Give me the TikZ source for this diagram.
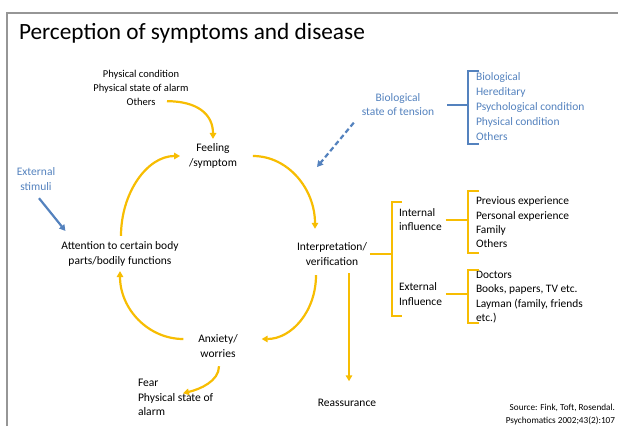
\documentclass[tikz,border=0pt]{standalone}
\usepackage{fontspec}
\setmainfont{Carlito}
\usetikzlibrary{arrows.meta,calc}
\definecolor{arrowyellow}{RGB}{247,189,2}
\definecolor{tensionblue}{RGB}{84,130,190}
\definecolor{framegray}{RGB}{150,150,150}

\begin{document}
\begin{tikzpicture}[x=1pt, y=1pt, yscale=-1, inner sep=2pt, outer sep=0pt,
  lbl/.style={font=\fontsize{11.5}{14.3}\selectfont, align=center},
  bluelbl/.style={lbl, text=tensionblue},
  items/.style={font=\fontsize{11.4}{14.3}\selectfont, align=left, anchor=west, inner sep=0pt},
  flow/.style={draw=arrowyellow, line width=2.2pt, -{Triangle[length=6pt,width=6.5pt]}},
  blueflow/.style={flow, draw=tensionblue},
  brace/.style={draw=arrowyellow, line width=2pt},
  bluebrace/.style={brace, draw=tensionblue}]
\useasboundingbox (0,0) rectangle (618,426);
\draw[framegray, line width=1.2pt] (7,426) -- (7,13) -- (618,13);

\path (19,39.5) node[anchor=base west, inner sep=0pt, font=\fontsize{23.3}{28}\selectfont] (title)
  {Perception of symptoms and disease};
\path (141,88) node[lbl, font=\fontsize{10.5}{14}\selectfont] (physcond)
  {Physical condition\\Physical state of alarm\\Others};
\path (213,156) node[lbl] (feeling) {Feeling\\/symptom};
\path (332,254) node[lbl] (interp) {Interpretation/\\verification};
\path (218,346) node[lbl] (anxiety) {Anxiety/\\worries};
\path (120,254) node[lbl] (attention) {Attention to certain body\\parts/bodily functions};
\path (36,179) node[bluelbl] (extstim) {External\\stimuli};
\path (398,104.5) node[bluelbl] (tension) {Biological\\state of tension};
\path (476,107) node[items, text=tensionblue, font=\fontsize{11.5}{15}\selectfont] (bioitems)
  {Biological\\Hereditary\\Psychological condition\\Physical condition\\Others};
\path (399,219.5) node[items] (intinf) {Internal\\influence};
\path (399,294) node[items] (extinf) {External\\Influence};
\path (476,222.5) node[items] (intitems)
  {Previous experience\\Personal experience\\Family\\Others};
\path (476,297) node[items] (extitems)
  {Doctors\\Books, papers, TV etc.\\Layman (family, friends\\etc.)};
\path (347,403) node[lbl] (reassure) {Reassurance};
\path (138,397.5) node[items, font=\fontsize{11.6}{14.5}\selectfont] (fear)
  {Fear\\Physical state of\\alarm};
\path (617,414.5) node[anchor=east, align=right, font=\fontsize{9.2}{13}\selectfont] (source)
  {Source: Fink, Toft, Rosendal.\\Psychomatics 2002;43(2):107};

\coordinate (biobrk) at (468,107);
\coordinate (mainbrk) at (392,259);
\coordinate (intbrk) at (468,222);
\coordinate (extbrk) at (468,296);
\coordinate (tensiontip) at (317,167);

\draw[bluebrace] (479,71) -- (468,71) -- (468,144) -- (479,144);
\draw[brace] (402,202) -- (392,202) -- (392,316) -- (402,316);
\draw[brace] (479,191) -- (468,191) -- (468,253) -- (479,253);
\draw[brace] (479,270) -- (468,270) -- (468,323) -- (479,323);
\draw[bluebrace] ($(tension.east)+(11,0)$) -- (tension.east -| biobrk);
\draw[brace] ($(interp.east)+(1,0)$) -- (interp.east -| mainbrk);
\draw[brace] ($(intinf.east)+(4,0)$) -- (intinf.east -| intbrk);
\draw[brace] ($(extinf.east)+(4,0)$) -- (extinf.east -| extbrk);

\draw[flow] ($(physcond.south)+(26,-6.5)$) .. controls +(30,0) and +(0,-25) .. ($(feeling.north)+(0,-3)$);
\draw[flow] ($(feeling.east)+(14,0)$) .. controls +(35,0) and +(0,-40) .. ($(interp.north)+(-17,-12)$);
\draw[flow] ($(interp.south)+(-16,8)$) .. controls +(0,36) and +(30,0) .. ($(anxiety.east)+(22,-7)$);
\draw[flow] ($(anxiety.west)+(-13,-7)$) .. controls +(-35,0) and +(0,38) .. ($(attention.south)+(0,3)$);
\draw[flow] ($(attention.north)+(1,-4)$) .. controls +(0,-43) and +(-33,0) .. ($(feeling.west)+(-7,0)$);
\draw[flow] ($(anxiety.south)+(1,7)$) .. controls +(0,15) and +(17,-4) .. ($(fear.north west)+(45,14)$);
\draw[flow] ($(interp.south)+(17,6)$) -- ($(reassure.north)+(2,-16)$);
\draw[blueflow] ($(extstim.south)+(3,6)$) -- ($(attention.north west)+(6,-9)$);
\draw[blueflow, dash pattern=on 5pt off 3pt] ($(tension.south west)+(-6,5)$) -- (tensiontip);

\end{tikzpicture}
\end{document}
